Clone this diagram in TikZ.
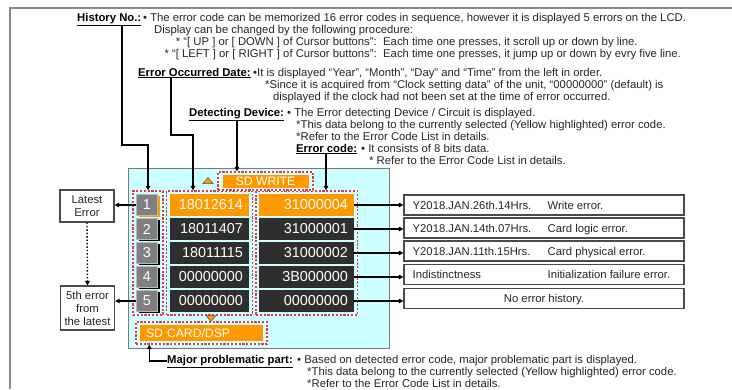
\documentclass[tikz,border=0pt]{standalone}
\usepackage{fontspec}
\setmainfont{Liberation Sans}
\usetikzlibrary{arrows.meta,shadows}
\definecolor{orng}{HTML}{FF9900}
\definecolor{darkcell}{HTML}{2E2E2E}
\definecolor{numg}{HTML}{7F7F7F}
\definecolor{panelc}{HTML}{CCFFFF}
\definecolor{panelb}{HTML}{7A7A7A}
\definecolor{dashred}{HTML}{E23A48}
\definecolor{txtc}{HTML}{262626}
\definecolor{boxb}{HTML}{4A4A4A}
\definecolor{framec}{HTML}{8A8A8A}
\newcommand\myfs{\fontsize{11.3}{12}\selectfont}
\newcommand\myfsb{\fontsize{11.3}{13}\selectfont}
\newcommand\cellfs{\fontsize{14.4}{15}\selectfont}
\newcommand\sdfs{\fontsize{12.2}{13}\selectfont}
\tikzset{
  body/.style={anchor=base west, inner sep=0pt, font=\myfs, text=txtc},
  bodyr/.style={anchor=base east, inner sep=0pt, font=\myfs, text=txtc},
  head/.style={anchor=base west, inner sep=0pt, font=\myfs\bfseries, text=black},
  conn/.style={draw=black, line width=1.4pt, -{Triangle[length=4.5pt,width=4.5pt]}},
  grp/.style={draw=dashred, line width=1.3pt, dash pattern=on 2.2pt off 1.6pt, preaction={draw=white, solid, line width=1.3pt}, inner sep=0pt},
  numcell/.style={fill=numg, draw=gray!55, line width=0.6pt, minimum width=21pt, minimum height=21pt, inner sep=0pt, text=white, font=\cellfs, drop shadow={shadow xshift=2.5pt, shadow yshift=-1.5pt, fill=#1, opacity=1}},
  numcell/.default=black,
  datecell/.style={fill=#1, minimum width=79pt, minimum height=22pt, inner sep=0pt, text=white, font=\cellfs, text width=67pt, align=right},
  codecell/.style={fill=#1, minimum width=95pt, minimum height=22pt, inner sep=0pt, text=white, font=\cellfs, text width=83pt, align=right},
  sdbox/.style={fill=orng, inner sep=0pt, text=white, font=\sdfs},
  infobox/.style={draw=boxb, line width=1.1pt, fill=white, minimum width=280pt, minimum height=20pt, inner sep=0pt},
  leftbox/.style={draw=boxb, line width=1.1pt, fill=white, align=center, font=\myfsb, text=txtc, inner sep=1pt, minimum width=54pt},
}
\begin{document}
\begin{tikzpicture}[x=1pt,y=-1pt]
\useasboundingbox (0,0) rectangle (732,389);
\fill[white] (0,0) rectangle (732,389);
% outer frame
\draw[framec, line width=1.2pt] (10,389) -- (10,8) -- (732,8);

% texts
\node[head] (hHist) at (77,21) {\underline{History No.:}};
\node[body] (tHist1) at (143,21) {• The error code can be memorized 16 error codes in sequence, however it is displayed 5 errors on the LCD.};
\node[body] (tHist2) at (154,33) {Display can be changed by the following procedure:};
\node[bodyr] (tHist3) at (377,45) {* “[ UP ] or [ DOWN ] of Cursor buttons”:};
\node[body] (tHist3b) at (383,45) {Each time one presses, it scroll up or down by line.};
\node[bodyr] (tHist4) at (377,57) {* “[ LEFT ] or [ RIGHT ] of Cursor buttons”:};
\node[body] (tHist4b) at (383,57) {Each time one presses, it jump up or down by evry five line.};
\node[head] (hDate) at (138,76) {\underline{Error Occurred Date:}};
\node[body] (tDate1) at (253,76) {•It is displayed “Year”, “Month”, “Day” and “Time” from the left in order.};
\node[body] (tDate2) at (265,88) {*Since it is acquired from “Clock setting data” of the unit, “00000000” (default) is};
\node[body] (tDate3) at (273,100) {displayed if the clock had not been set at the time of error occurred.};
\node[head] (hDev) at (189,116) {\underline{Detecting Device:}};
\node[body] (tDev1) at (287,116) {• The Error detecting Device / Circuit is displayed.};
\node[body] (tDev2) at (296,128) {*This data belong to the currently selected (Yellow highlighted) error code.};
\node[body] (tDev3) at (296,140) {*Refer to the Error Code List in details.};
\node[head] (hCode) at (296,152) {\underline{Error code:}};
\node[body] (tCode1) at (361,152) {• It consists of 8 bits data.};
\node[body] (tCode2) at (369,164) {* Refer to the Error Code List in details.};
\node[head] (hMaj) at (167,363) {\underline{Major problematic part:}};
\node[body] (tMaj1) at (297,363) {• Based on detected error code, major problematic part is displayed.};
\node[body] (tMaj2) at (307,375) {*This data belong to the currently selected (Yellow highlighted) error code.};
\node[body] (tMaj3) at (307,387) {*Refer to the Error Code List in details.};

% panel
\draw[panelb, fill=panelc, line width=1pt] (128,168) rectangle (389,348);

% groups
\node[grp, minimum width=30pt, minimum height=124pt] (numgrp) at (148,253) {};
\node[grp, minimum width=86pt, minimum height=124pt] (dategrp) at (209.5,253) {};
\node[grp, minimum width=101.5pt, minimum height=124pt] (codegrp) at (306.75,253) {};
\node[grp, minimum width=95pt, minimum height=18pt] (sdwgrp) at (265.5,181) {};
\node[grp, minimum width=131pt, minimum height=22pt] (sdcgrp) at (201.5,333) {};

% SD boxes
\node[sdbox, minimum width=86pt, minimum height=13pt] (sdw) at (265.5,181.5) {SD WRITE};
\node[sdbox, minimum width=123pt, minimum height=16pt, text width=111pt, align=left] (sdc) at (201.5,333) {SD CARD/DSP};

% triangles
\fill[orng, draw=black!70, line width=0.5pt] (203,183.5) -- (213,183.5) -- (208,177.5) -- cycle;
\fill[orng, draw=black!70, line width=0.5pt] (206,315.5) -- (216,315.5) -- (211,321.5) -- cycle;

% rows
\node[numcell=orng] (n1) at (147,205) {1};
\node[numcell] (n2) at (147,229) {2};
\node[numcell] (n3) at (147,253) {3};
\node[numcell] (n4) at (147,277) {4};
\node[numcell] (n5) at (147,301) {5};
\node[datecell=orng] (d1) at (209.5,205) {18012614};
\node[datecell=darkcell] (d2) at (209.5,229) {18011407};
\node[datecell=darkcell] (d3) at (209.5,253) {18011115};
\node[datecell=darkcell] (d4) at (209.5,277) {00000000};
\node[datecell=darkcell] (d5) at (209.5,301) {00000000};
\node[codecell=orng] (c1) at (306.5,205) {31000004};
\node[codecell=darkcell] (c2) at (306.5,229) {31000001};
\node[codecell=darkcell] (c3) at (306.5,253) {31000002};
\node[codecell=darkcell] (c4) at (306.5,277) {3B000000};
\node[codecell=darkcell] (c5) at (306.5,301) {00000000};

% info boxes
\node[infobox] (i1) at (544,205) {};
\node[infobox] (i2) at (544,228) {};
\node[infobox] (i3) at (544,251) {};
\node[infobox] (i4) at (544,274.5) {};
\node[infobox] (i5) at (544,298.5) {};
\node[body] (i1a) at ([xshift=9pt,yshift=-4pt]i1.west) {Y2018.JAN.26th.14Hrs.};
\node[body] (i1b) at ([xshift=144pt,yshift=-4pt]i1.west) {Write error.};
\node[body] (i2a) at ([xshift=9pt,yshift=-4pt]i2.west) {Y2018.JAN.14th.07Hrs.};
\node[body] (i2b) at ([xshift=144pt,yshift=-4pt]i2.west) {Card logic error.};
\node[body] (i3a) at ([xshift=9pt,yshift=-4pt]i3.west) {Y2018.JAN.11th.15Hrs.};
\node[body] (i3b) at ([xshift=144pt,yshift=-4pt]i3.west) {Card physical error.};
\node[body] (i4a) at ([xshift=9pt,yshift=-4pt]i4.west) {Indistinctness};
\node[body] (i4b) at ([xshift=144pt,yshift=-4pt]i4.west) {Initialization failure error.};
\node[body, anchor=base] (i5a) at ([yshift=-4pt]i5.center) {No error history.};

% left boxes
\node[leftbox, minimum height=32pt] (lat) at (87,206) {Latest\\Error};
\node[leftbox, minimum height=44pt] (fifth) at (87.5,308) {5th error\\from\\the latest};

% connectors
\coordinate (kH) at (122,145);
\coordinate (kD) at (171,135);
\coordinate (kD2) at (193,0);
\coordinate (kV) at (237,0);
\coordinate (kC) at (326,0);
\draw[conn] (hHist.south -| kH) -- (kH) -| (numgrp.north);
\draw[conn] (hDate.south -| kD) -- (kD) -| (dategrp.north -| kD2);
\draw[conn] (hDev.south -| kV) -- (sdwgrp.north -| kV);
\draw[conn] (hCode.south -| kC) -- (codegrp.north -| kC);
\draw[conn] (hMaj.west) -| ([xshift=14pt]sdcgrp.south west);

\draw[conn] (c1.east) -- (c1.east -| i1.west);
\draw[conn] (c2.east) -- (c2.east -| i2.west);
\draw[conn] (c3.east) -- (c3.east -| i3.west);
\draw[conn] (c4.east) -- (c4.east -| i4.west);
\draw[conn] (c5.east) -- (c5.east -| i5.west);

\draw[conn] (n1.west) -- (n1.west -| lat.east);
\draw[conn] (n5.west) -- (n5.west -| fifth.east);
\draw[conn, dotted] (lat.south) -- (fifth.north);
\end{tikzpicture}
\end{document}
